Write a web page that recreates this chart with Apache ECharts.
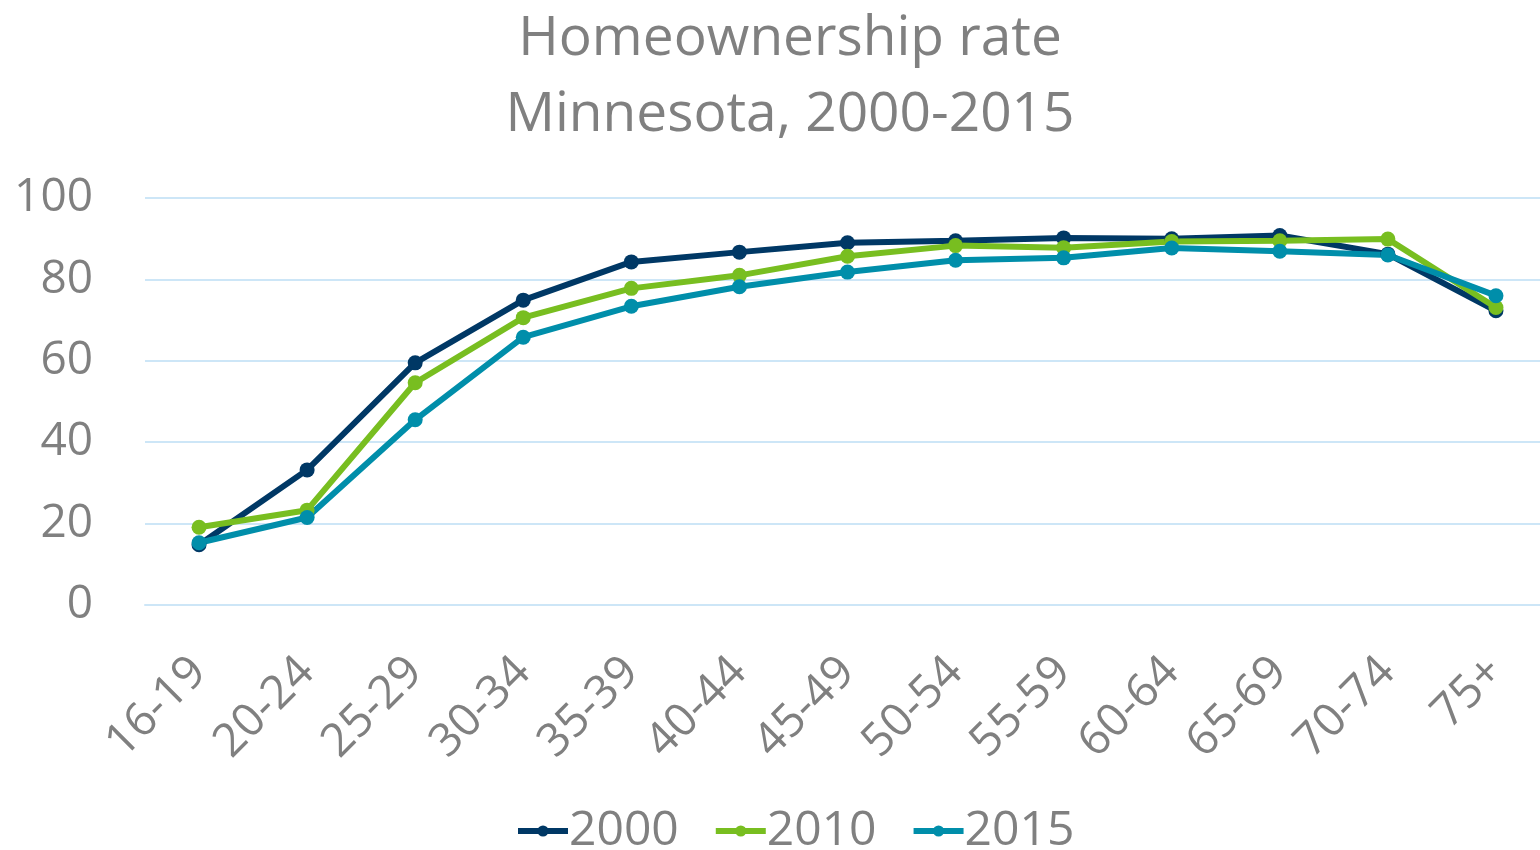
<!DOCTYPE html>
<html lang="en">

<head>
    <meta charset="UTF-8">
    <title>Homeownership rate</title>
    <script src="https://cdn.jsdelivr.net/npm/echarts@6/dist/echarts.min.js"></script>
</head>

<body style="margin:0;background:#fff;">
    <div id="main" style="width: 1540px;height:850px;"></div>
    <script type="text/javascript">
        // age groups and rates (percent)
        const ageGroups = ['16-19', '20-24', '25-29', '30-34', '35-39', '40-44', '45-49',
            '50-54', '55-59', '60-64', '65-69', '70-74', '75+'];
        const rate2000 = [14.8, 33.2, 59.5, 74.9, 84.3, 86.7, 89.0, 89.5, 90.2, 90.0, 90.8, 86.2, 72.3];
        const rate2010 = [19.1, 23.3, 54.6, 70.6, 77.8, 81.0, 85.7, 88.3, 87.8, 89.3, 89.5, 89.9, 73.1];
        const rate2015 = [15.3, 21.5, 45.5, 65.8, 73.4, 78.2, 81.8, 84.7, 85.3, 87.7, 86.9, 86.0, 76.0];
        const yTicks = [0, 20, 40, 60, 80, 100];

        const textColor = '#808080';
        const gridColor = '#cde6f7';
        const font = 'Open Sans';

        let myChart = echarts.init(document.getElementById('main'));

        function lineSeries(name, data, color) {
            return {
                name: name,
                type: 'line',
                data: data,
                symbol: 'circle',
                symbolSize: 15,
                lineStyle: { width: 6, color: color },
                itemStyle: { color: color },
                emphasis: { disabled: true }
            };
        }

        let options = {
            animation: false,
            title: {
                text: 'Homeownership rate\nMinnesota, 2000-2015',
                left: 785,
                textAlign: 'center',
                top: -4,
                textStyle: {
                    fontFamily: font,
                    fontSize: 55,
                    fontWeight: 'normal',
                    color: textColor,
                    lineHeight: 76
                }
            },
            legend: {
                top: 802,
                left: 510,
                itemWidth: 50,
                itemHeight: 14,
                itemGap: 34,
                lineStyle: { width: 6 },
                textStyle: { fontFamily: font, fontSize: 48, color: textColor, padding: [0, 0, 0, -4] },
                data: ['2000', '2010', '2015']
            },
            grid: { left: 145, top: 198, width: 1405, height: 407, containLabel: false, outerBoundsMode: 'none' },
            xAxis: {
                type: 'category',
                data: ageGroups,
                boundaryGap: true,
                axisLine: { lineStyle: { color: gridColor, width: 2 } },
                axisTick: { show: false },
                axisLabel: {
                    rotate: 45,
                    margin: 60,
                    interval: 0,
                    fontFamily: font,
                    fontSize: 46,
                    color: textColor
                }
            },
            yAxis: {
                type: 'value',
                min: yTicks[0],
                max: yTicks[yTicks.length - 1],
                interval: 20,
                axisLine: { show: false },
                axisTick: { show: false },
                splitLine: { lineStyle: { color: gridColor, width: 2 } },
                axisLabel: {
                    margin: 52,
                    fontFamily: font,
                    fontSize: 46,
                    color: textColor
                }
            },
            series: [
                lineSeries('2000', rate2000, '#003865'),
                lineSeries('2010', rate2010, '#78be20'),
                lineSeries('2015', rate2015, '#008eaa')
            ]
        };

        myChart.setOption(options);
    </script>
</body>

</html>
